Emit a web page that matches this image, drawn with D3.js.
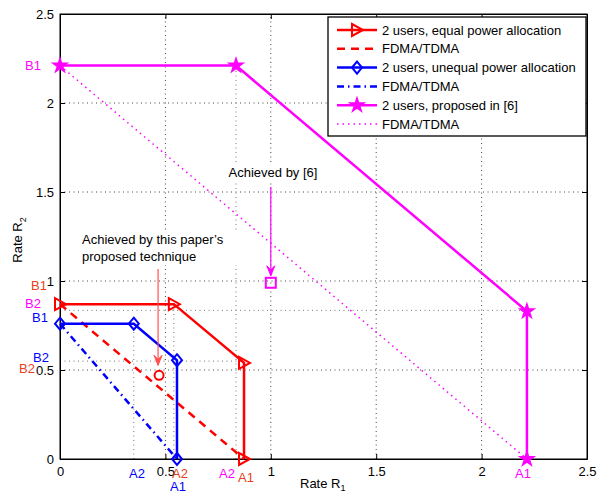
<!DOCTYPE html>
<html><head><meta charset="utf-8">
<script src="https://cdn.jsdelivr.net/npm/d3@7"></script>
<style>body{margin:0;background:#fff}svg{display:block;font-family:"Liberation Sans",Arial,sans-serif}</style>
</head><body><svg id="c" width="597" height="494"></svg>
<script>
// ---- data ----
const xTicks = [0, 0.5, 1, 1.5, 2, 2.5];
const yTicks = [0, 0.5, 1, 1.5, 2, 2.5];
const equalR1 = [0, 0.54, 0.873, 0.873];
const equalR2 = [0.87, 0.87, 0.54, 0];
const equalFdmaR1 = [0, 0.873];
const equalFdmaR2 = [0.87, 0];
const unequalR1 = [0, 0.35, 0.555, 0.555];
const unequalR2 = [0.76, 0.76, 0.555, 0];
const unequalFdmaR1 = [0, 0.555];
const unequalFdmaR2 = [0.76, 0];
const propR1 = [0, 0.835, 2.215, 2.215];
const propR2 = [2.21, 2.21, 0.83, 0];
const propFdmaR1 = [0, 2.215];
const propFdmaR2 = [2.21, 0];
const oursPoint = [0.47, 0.47];
const ref6Point = [1.0, 0.99];
const legendLabels = ["2 users, equal power allocation","FDMA/TDMA","2 users, unequal power allocation","FDMA/TDMA","2 users, proposed in [6]","FDMA/TDMA"];
// helper dotted guide lines [x1,y1,x2,y2]
const guides = [[0.35,0,0.35,0.76],[0.54,0,0.54,0.87],[0.835,0,0.835,2.21],[0,0.55,0.873,0.55],[0,0.835,2.215,0.835]];

const svg = d3.select("#c");
const L=60,R=587,T=14,B=459;
const x = d3.scaleLinear().domain([0,2.5]).range([L,R]);
const y = d3.scaleLinear().domain([0,2.5]).range([B,T]);
const RED="#ff0000", BLUE="#0000ff", MAG="#ff00ff", LRED="#e8401c";
const grid = svg.append("g").attr("stroke","#444").attr("stroke-width",1).attr("stroke-dasharray","1,3.5");
[0.5,1,1.5,2].forEach(v=>{
  grid.append("line").attr("x1",x(v)).attr("x2",x(v)).attr("y1",B).attr("y2",T);
  grid.append("line").attr("y1",y(v)).attr("y2",y(v)).attr("x1",L).attr("x2",R);
});
guides.forEach(g=>grid.append("line").attr("x1",x(g[0])).attr("y1",y(g[1])).attr("x2",x(g[2])).attr("y2",y(g[3])).attr("stroke","#777"));

// axes
const ax = svg.append("g");
ax.append("g").attr("transform",`translate(0,${B})`).call(d3.axisBottom(x).tickValues(xTicks).tickFormat(d3.format("~g")).tickSizeInner(-5).tickSizeOuter(0).tickPadding(8));
ax.append("g").attr("transform",`translate(0,${T})`).call(d3.axisTop(x).tickValues(xTicks).tickFormat("").tickSizeInner(-5).tickSizeOuter(0));
ax.append("g").attr("transform",`translate(${L},0)`).call(d3.axisLeft(y).tickValues(yTicks).tickFormat(d3.format("~g")).tickSizeInner(-5).tickSizeOuter(0).tickPadding(6));
ax.append("g").attr("transform",`translate(${R},0)`).call(d3.axisRight(y).tickValues(yTicks).tickFormat("").tickSizeInner(-5).tickSizeOuter(0));
ax.selectAll(".domain").attr("stroke","#000");
ax.selectAll("g").attr("font-size",null).attr("font-family",null);
ax.selectAll("text").attr("fill","#000").style("font-size","13px").style("font-family","Liberation Sans, Arial, sans-serif");
svg.append("rect").attr("x",L).attr("y",T).attr("width",R-L).attr("height",B-T).attr("fill","none").attr("stroke","#000");

const line = d3.line().x(d=>x(d[0])).y(d=>y(d[1]));
const zip=(a,b)=>a.map((v,i)=>[v,b[i]]);
function path(pts,color,w,dash){
  svg.append("path").attr("d",line(pts)).attr("fill","none").attr("stroke",color).attr("stroke-width",w).attr("stroke-dasharray",dash||null);
}
path(zip(propFdmaR1,propFdmaR2),MAG,1.5,"1.5,4");
path(zip(unequalFdmaR1,unequalFdmaR2),BLUE,2.5,"7,4,1.5,4");
path(zip(equalFdmaR1,equalFdmaR2),RED,2.5,"8,6");
path(zip(propR1,propR2),MAG,2.5);
path(zip(equalR1,equalR2),RED,2.5);
path(zip(unequalR1,unequalR2),BLUE,2.5);

const tri = "M-5,-6 L6,0 L-5,6 Z";
const dia = "M0,-6 L5,0 L0,6 L-5,0 Z";
const star = d3.symbol(d3.symbolStar,60)();
function markers(pts,d,color,fill,w){
  svg.append("g").selectAll("path").data(pts).join("path").attr("d",d)
    .attr("transform",p=>`translate(${x(p[0])},${y(p[1])})`)
    .attr("fill",fill).attr("stroke",color).attr("stroke-width",w);
}
markers(zip(propR1,propR2),star,MAG,MAG,1.5);
markers(zip(equalR1,equalR2),tri,RED,"none",2);
markers(zip(unequalR1,unequalR2),dia,BLUE,"none",2);

// annotations
svg.append("circle").attr("cx",x(oursPoint[0])).attr("cy",y(oursPoint[1])).attr("r",4.5).attr("fill","none").attr("stroke",RED).attr("stroke-width",2);
svg.append("rect").attr("x",x(ref6Point[0])-5).attr("y",y(ref6Point[1])-5).attr("width",10).attr("height",10).attr("fill","none").attr("stroke",MAG).attr("stroke-width",2);
function arrow(x0,y0,y1,color){
  svg.append("line").attr("x1",x0).attr("x2",x0).attr("y1",y0).attr("y2",y1).attr("stroke",color).attr("stroke-width",1.2);
  svg.append("path").attr("d",`M${x0-4},${y1-10} L${x0},${y1} L${x0+4},${y1-10} L${x0},${y1-6} Z`).attr("fill",color).attr("stroke",color).attr("stroke-width",1);
}
arrow(x(oursPoint[0])-1,269,y(oursPoint[1])-10,"#ff5050");
arrow(x(ref6Point[0]),187,y(ref6Point[1])-7,MAG);

const ann = svg.append("g").style("font-size","13px");
ann.append("rect").attr("x",223).attr("y",163).attr("width",98).attr("height",17).attr("fill","#fff");
ann.append("text").attr("x",273).attr("y",177).attr("text-anchor","middle").text("Achieved by [6]");
ann.append("rect").attr("x",80).attr("y",231).attr("width",172).attr("height",34).attr("fill","#fff");
ann.append("text").attr("x",82).attr("y",244).text("Achieved by this paper\u2019s");
ann.append("text").attr("x",82).attr("y",261).text("proposed technique");

// point labels
const pl = svg.append("g").style("font-size","13px").attr("text-anchor","middle");
const lab=(t,px,py,c)=>pl.append("text").attr("x",px).attr("y",py).attr("dy","0.35em").attr("fill",c).text(t);
lab("B1",33,65,MAG);
lab("B1",39,285,LRED);
lab("B2",33,303,MAG);
lab("B1",40,317,BLUE);
lab("B2",41,357,BLUE);
lab("B2",27,368,LRED);
lab("A2",137,473,BLUE);
lab("A2",180,473,LRED);
lab("A1",178,486,BLUE);
lab("A2",227,473,MAG);
lab("A1",246,477,LRED);
lab("A1",523,473,MAG);

// axis titles
const at = svg.append("g").style("font-size","13px");
const xt = at.append("text").attr("x",300).attr("y",488);
xt.append("tspan").text("Rate R");
xt.append("tspan").attr("dy",3).style("font-size","9px").text("1");
const yt = at.append("text").attr("transform","translate(22,240) rotate(-90)").attr("text-anchor","middle");
yt.append("tspan").text("Rate R");
yt.append("tspan").attr("dy",4).style("font-size","9px").text("2");

// legend
const lg = svg.append("g");
lg.append("rect").attr("x",328).attr("y",17).attr("width",258).attr("height",119).attr("fill","#fff").attr("stroke","#000").attr("stroke-width",1.3);
const styles=[[RED,2.5,null,tri,"none"],[RED,2.5,"8,6",null],[BLUE,2.5,null,dia,"none"],[BLUE,2.5,"7,4,1.5,4",null],[MAG,2.5,null,star,MAG],[MAG,1.5,"1.5,4",null]];
legendLabels.forEach((t,i)=>{
  const cy = 30 + i*18.8, s=styles[i];
  lg.append("line").attr("x1",337).attr("x2",377).attr("y1",cy).attr("y2",cy).attr("stroke",s[0]).attr("stroke-width",s[1]).attr("stroke-dasharray",s[2]);
  if(s[3]) lg.append("path").attr("d",s[3]).attr("transform",`translate(357,${cy})`).attr("fill",s[4]).attr("stroke",s[0]).attr("stroke-width",i==4?1.5:2);
  lg.append("text").attr("x",382).attr("y",cy).attr("dy","0.35em").style("font-size","13px").text(t);
});
</script></body></html>
